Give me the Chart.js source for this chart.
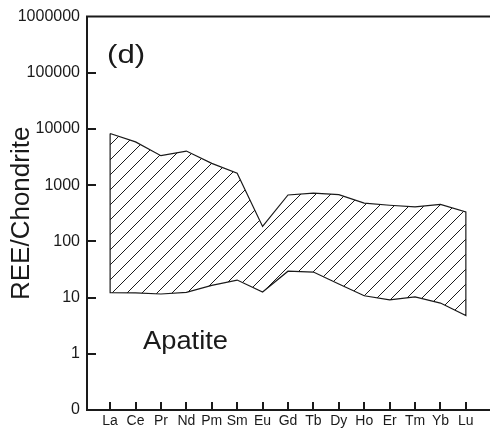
<!DOCTYPE html>
<html>
<head>
<meta charset="utf-8">
<script src="https://cdn.jsdelivr.net/npm/chart.js@4/dist/chart.umd.min.js"></script>
<style>
    html, body { margin: 0; padding: 0; background: #fff; }
    #wrap { width: 490px; height: 429px; }
</style>
</head>
<body>
<div id="wrap"><canvas id="reeChart" width="490" height="429"></canvas></div>
<script>
// Chondrite-normalised REE envelope for apatite
const elements = ['La', 'Ce', 'Pr', 'Nd', 'Pm', 'Sm', 'Eu', 'Gd', 'Tb', 'Dy', 'Ho', 'Er', 'Tm', 'Yb', 'Lu'];
const upperBound = [8300, 5900, 3350, 4050, 2450, 1630, 185, 670, 725, 680, 480, 440, 410, 455, 335];
const lowerBound = [12.2, 12.1, 11.6, 12.4, 16.5, 20.5, 12.6, 29.5, 28.5, 17.5, 10.8, 9.1, 10.3, 8.0, 4.8];
const yTickValues = [0.1, 1, 10, 100, 1000, 10000, 100000, 1000000];
const yTickLabels = ['0', '1', '10', '100', '1000', '10000', '100000', '1000000'];

const INK = '#1a1a1a';
const FONT = '"Liberation Sans", Arial, Helvetica, sans-serif';

// diagonal hatch used to fill the envelope
function makeHatch(step) {
    const c = document.createElement('canvas');
    c.width = step;
    c.height = step;
    const g = c.getContext('2d');
    g.strokeStyle = INK;
    g.lineWidth = 1;
    g.beginPath();
    g.moveTo(-1, step + 1);
    g.lineTo(step + 1, -1);
    g.moveTo(-1, 1);
    g.lineTo(1, -1);
    g.moveTo(step - 1, step + 1);
    g.lineTo(step + 1, step - 1);
    g.stroke();
    return g.createPattern(c, 'repeat');
}

// closed outline: upper curve left to right, lower curve back, then close
const envelope = [];
upperBound.forEach((v, i) => envelope.push({ x: i, y: v }));
for (let i = lowerBound.length - 1; i >= 0; i--) envelope.push({ x: i, y: lowerBound[i] });
envelope.push({ x: 0, y: upperBound[0] });

// slightly widened label text
function wideText(ctx, text, x, y, size, stretch) {
    ctx.save();
    ctx.translate(x, y);
    ctx.scale(stretch, 1);
    ctx.font = size + 'px ' + FONT;
    ctx.fillText(text, 0, 0);
    ctx.restore();
}

// inward tick marks, top frame line and text labels
const framePlugin = {
    id: 'frame',
    afterDraw(chart) {
        const ctx = chart.ctx;
        const area = chart.chartArea;
        const xs = chart.scales.x;
        const ys = chart.scales.y;
        ctx.save();
        ctx.strokeStyle = INK;
        ctx.lineWidth = 2;
        ctx.beginPath();
        ctx.moveTo(area.left - 1, area.top);
        ctx.lineTo(area.right, area.top);
        ys.ticks.forEach(t => {
            const py = Math.round(ys.getPixelForValue(t.value));
            if (py <= area.top + 1 || py >= area.bottom - 1) return;
            ctx.moveTo(area.left, py);
            ctx.lineTo(area.left + 9, py);
        });
        xs.ticks.forEach(t => {
            const px = Math.round(xs.getPixelForValue(t.value));
            ctx.moveTo(px, area.bottom);
            ctx.lineTo(px, area.bottom - 8);
        });
        ctx.stroke();

        ctx.fillStyle = INK;
        ctx.textAlign = 'left';
        ctx.textBaseline = 'alphabetic';
        wideText(ctx, '(d)', 107, 63, 26, 1.2);
        wideText(ctx, 'Apatite', 143, 349, 26, 1.05);
        ctx.restore();
    }
};

const chartCanvas = document.getElementById('reeChart');
new Chart(chartCanvas, {
    type: 'scatter',
    data: {
        datasets: [{
            data: envelope,
            showLine: true,
            fill: 'shape',
            backgroundColor: makeHatch(15),
            borderColor: INK,
            borderWidth: 1.2,
            pointRadius: 0,
            tension: 0
        }]
    },
    options: {
        responsive: false,
        animation: false,
        devicePixelRatio: 1,
        layout: { padding: { top: 14, left: 0, right: 0, bottom: 0 } },
        plugins: {
            legend: { display: false },
            tooltip: { enabled: false }
        },
        scales: {
            x: {
                type: 'linear',
                min: -0.91,
                max: 14.95,
                afterBuildTicks: scale => {
                    scale.ticks = elements.map((_, i) => ({ value: i }));
                },
                afterFit: scale => { scale.height = 19; },
                grid: { display: false, drawTicks: false },
                border: { display: true, width: 2, color: INK },
                ticks: {
                    autoSkip: false,
                    maxRotation: 0,
                    padding: 3,
                    color: INK,
                    font: { family: FONT, size: 14 },
                    callback: value => elements[value] ?? ''
                }
            },
            y: {
                type: 'logarithmic',
                min: 0.1,
                max: 1000000,
                afterBuildTicks: scale => {
                    scale.ticks = yTickValues.map(v => ({ value: v }));
                },
                afterFit: scale => { scale.width = 87; },
                grid: { display: false, drawTicks: false },
                border: { display: true, width: 2, color: INK },
                title: {
                    display: true,
                    text: 'REE/Chondrite',
                    color: INK,
                    font: { family: FONT, size: 26 },
                    padding: { top: 6, bottom: 0 }
                },
                ticks: {
                    autoSkip: false,
                    padding: 7,
                    color: INK,
                    font: { family: FONT, size: 16 },
                    callback: (value, index) => yTickLabels[index]
                }
            }
        }
    },
    plugins: [framePlugin]
});
</script>
</body>
</html>
